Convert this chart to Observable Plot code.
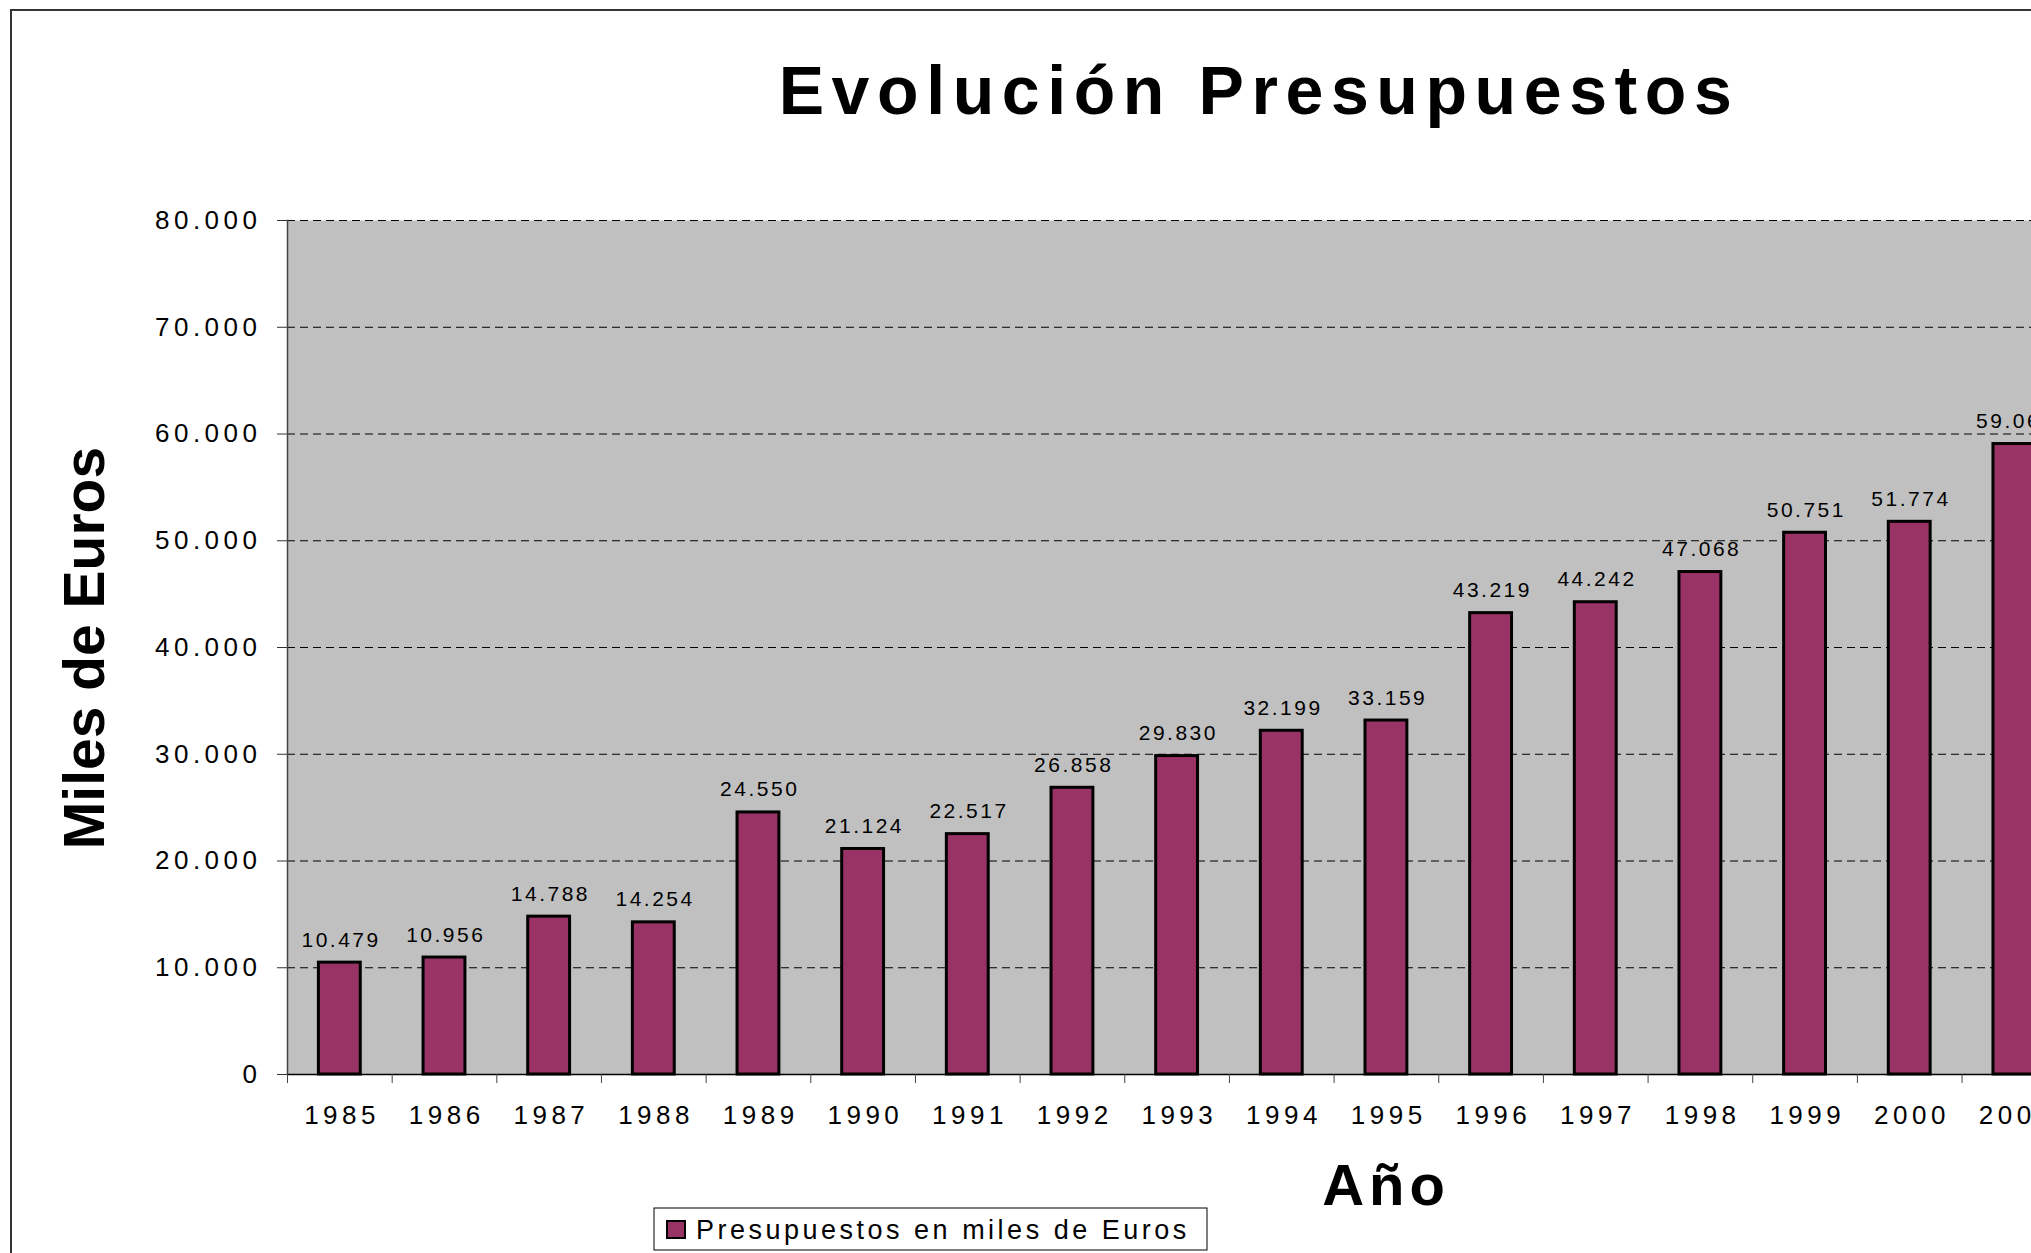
<!DOCTYPE html>
<html>
<head>
<meta charset="utf-8">
<script src="https://cdn.jsdelivr.net/npm/d3@7"></script>
<script src="https://cdn.jsdelivr.net/npm/@observablehq/plot@0.6"></script>
<style>
  html, body { margin: 0; padding: 0; background: #fff; overflow: hidden; }
  #wrap { position: relative; width: 2031px; height: 1253px; overflow: hidden; }
  #chart { position: absolute; left: 0; top: 0; width: 2080px; }
  #chart svg { max-width: none !important; }
  #overlay { position: absolute; left: 0; top: 0; pointer-events: none; }
  g[aria-label="y-axis tick label"] text { letter-spacing: 4.5px; }
  g[aria-label="x-axis tick label"] text { letter-spacing: 4.5px; }
  g[aria-label="text"] text { letter-spacing: 2.5px; }
</style>
</head>
<body>
<div id="wrap">
  <div id="chart"></div>
  <svg id="overlay" width="2031" height="1253" font-family="'Liberation Sans', Arial, sans-serif">
    <rect x="11" y="10" width="3000" height="3000" fill="none" stroke="#333" stroke-width="2"></rect>
    <text id="title" x="1259" y="114" text-anchor="middle" font-size="68" font-weight="bold" letter-spacing="7.6"></text>
    <text id="ylab" transform="translate(104,648) rotate(-90)" text-anchor="middle" font-size="57" font-weight="bold"></text>
    <text id="xlab" x="1386" y="1205" text-anchor="middle" font-size="58" font-weight="bold" letter-spacing="5"></text>
    <rect x="654" y="1208" width="553" height="42" fill="#fff" stroke="#000" stroke-width="1"></rect>
    <rect x="667" y="1221" width="18" height="17" fill="#993366" stroke="#000" stroke-width="2"></rect>
    <text id="legtext" x="696" y="1239" font-size="27" letter-spacing="3.5"></text>
  </svg>
</div>
<script>
const titleText = "Evolución Presupuestos";
const yLabel = "Miles de Euros";
const xLabel = "Año";
const seriesName = "Presupuestos en miles de Euros";

const years = [1985, 1986, 1987, 1988, 1989, 1990, 1991, 1992, 1993, 1994, 1995, 1996, 1997, 1998, 1999, 2000, 2001];
const values = [10479, 10956, 14788, 14254, 24550, 21124, 22517, 26858, 29830, 32199, 33159, 43219, 44242, 47068, 50751, 51774, 59060];
const yTicks = [0, 10000, 20000, 30000, 40000, 50000, 60000, 70000, 80000];

const data = years.map((y, i) => ({year: y, value: values[i]}));
const fmt = d => d3.format(",")(d).replace(/,/g, ".");

document.getElementById("title").textContent = titleText;
document.getElementById("ylab").textContent = yLabel;
document.getElementById("xlab").textContent = xLabel;
document.getElementById("legtext").textContent = seriesName;

const marginLeft = 287, marginTop = 220, marginBottom = 179;
const step = 104.66;
const plotW = step * years.length;
const width = 2080;
const marginRight = width - marginLeft - plotW;

const chart = Plot.plot({
  width,
  height: 1253,
  marginLeft, marginTop, marginBottom, marginRight,
  style: {fontFamily: "'Liberation Sans', Arial, sans-serif", color: "#000", background: "transparent", overflow: "visible", maxWidth: "none"},
  x: {type: "band", domain: years, paddingInner: 0.6, paddingOuter: 0.3, round: false, axis: null, label: null},
  y: {domain: [0, 80000], axis: null, label: null},
  marks: [
    Plot.frame({fill: "#c0c0c0", stroke: null}),
    Plot.ruleY(yTicks.filter(d => d > 0), {stroke: "#000", strokeWidth: 1, strokeDasharray: "8,5"}),
    Plot.barY(data, {x: "year", y: "value", fill: "#993366", stroke: "#000", strokeWidth: 3}),
    Plot.text(data, {x: "year", y: "value", text: d => fmt(d.value), dy: -16, dx: 1.25, lineAnchor: "bottom", fontSize: 21, fill: "#000"}),
    Plot.axisY({ticks: yTicks, tickSize: 10, tickPadding: 16, tickFormat: fmt, fontSize: 26, stroke: "#333", label: null}),
    Plot.frame({anchor: "left", stroke: "#444", strokeWidth: 1.5}),
    Plot.ruleY([0], {stroke: "#000", strokeWidth: 1.5}),
    Plot.axisX({tickSize: 9, tickFormat: () => "", dx: -step / 2, stroke: "#444", label: null}),
    Plot.axisX({tickSize: 0, tickPadding: 31, fontSize: 26, dx: 2.25, tickFormat: d => String(d), label: null})
  ]
});
document.getElementById("chart").appendChild(chart);
</script>
</body>
</html>
